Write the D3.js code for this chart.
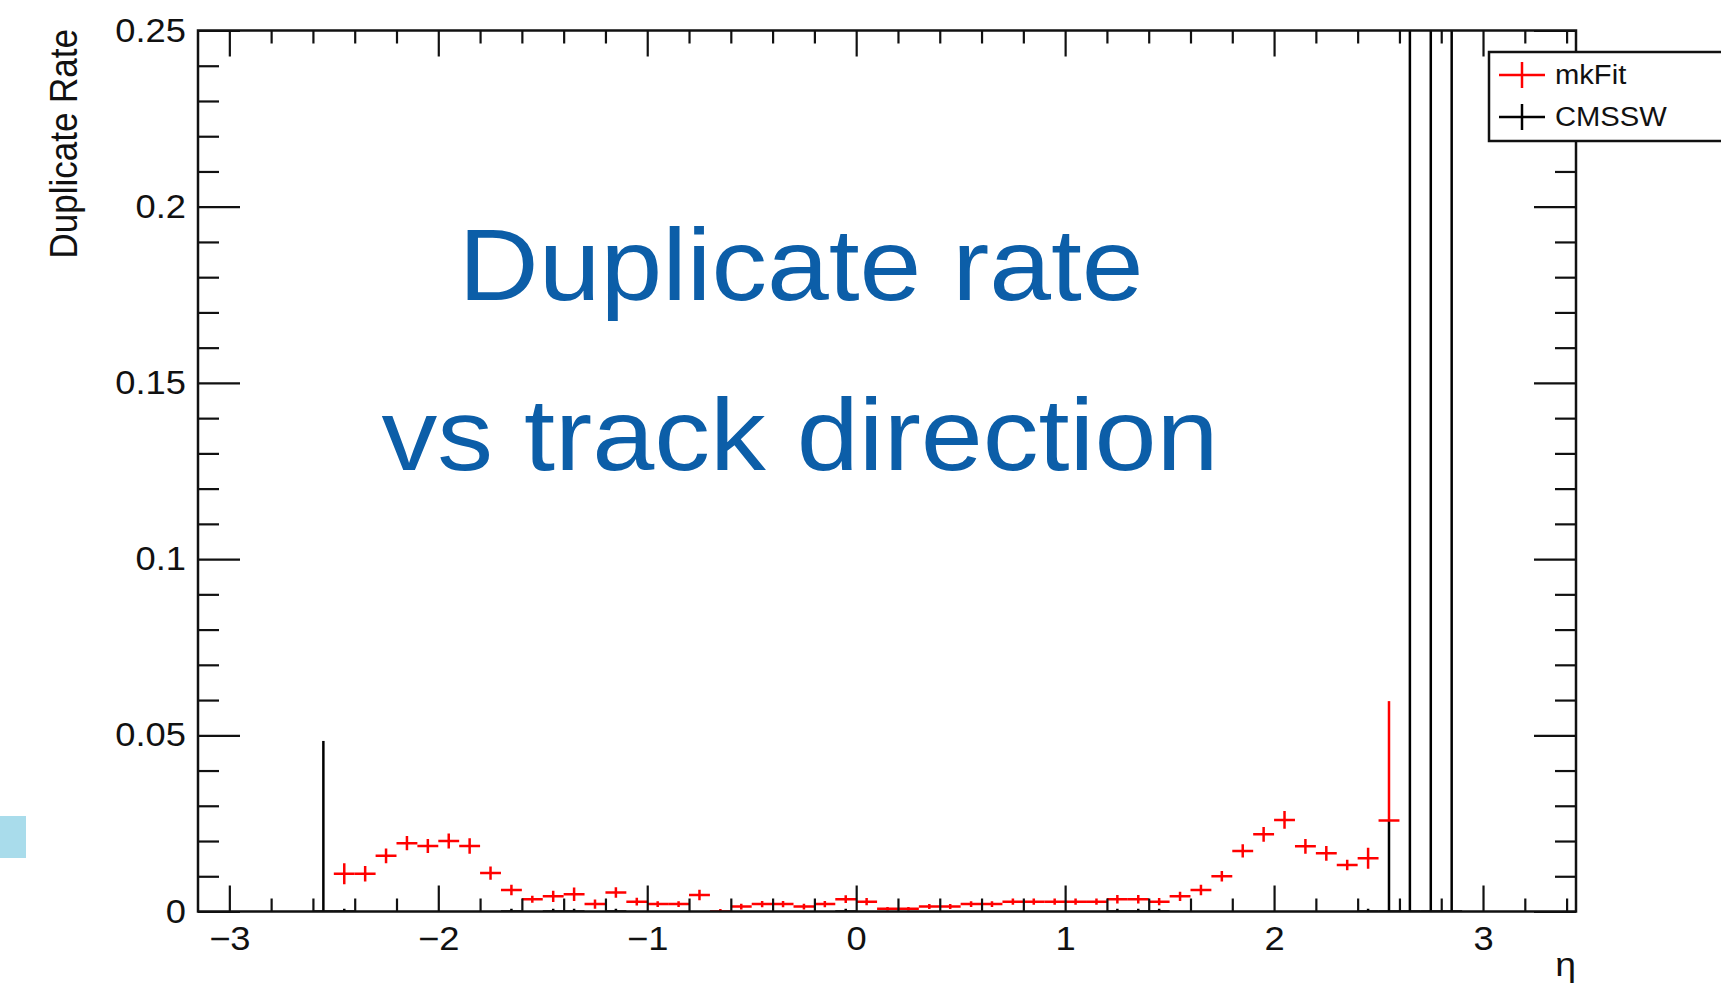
<!DOCTYPE html>
<html><head><meta charset="utf-8">
<script src="https://cdn.jsdelivr.net/npm/d3@7"></script>
<style>html,body{margin:0;padding:0;background:#fff;overflow:hidden}</style>
</head><body>
<svg id="c" width="1721" height="985"></svg>
<script>
// ---- data ----
const mkFitEta = [-2.45,-2.35,-2.25,-2.15,-2.05,-1.95,-1.85,-1.75,-1.65,-1.55,-1.45,-1.35,-1.25,-1.15,-1.05,-0.95,-0.85,-0.75,-0.65,-0.55,-0.45,-0.35,-0.25,-0.15,-0.05,0.05,0.15,0.25,0.35,0.45,0.55,0.65,0.75,0.85,0.95,1.05,1.15,1.25,1.35,1.45,1.55,1.65,1.75,1.85,1.95,2.05,2.15,2.25,2.35,2.45,2.55];
const mkFitRate = [0.0107,0.0107,0.0158,0.0194,0.0186,0.0200,0.0186,0.0109,0.0061,0.0035,0.0043,0.0049,0.0021,0.0054,0.0028,0.0021,0.0021,0.0047,0.0000,0.0014,0.0021,0.0021,0.0014,0.0021,0.0035,0.0028,0.0008,0.0008,0.0014,0.0014,0.0021,0.0021,0.0028,0.0028,0.0028,0.0028,0.0028,0.0035,0.0035,0.0028,0.0043,0.0061,0.0100,0.0172,0.0219,0.0260,0.0185,0.0165,0.0132,0.0151,0.0258];
const mkFitErrLow = [0.0030,0.0022,0.0021,0.0020,0.0020,0.0021,0.0022,0.0019,0.0015,0.0010,0.0016,0.0019,0.0013,0.0015,0.0011,0.0008,0.0008,0.0015,0.0000,0.0008,0.0009,0.0009,0.0008,0.0009,0.0011,0.0010,0.0005,0.0005,0.0007,0.0007,0.0008,0.0008,0.0009,0.0009,0.0009,0.0009,0.0009,0.0012,0.0012,0.0010,0.0013,0.0015,0.0015,0.0019,0.0021,0.0025,0.0021,0.0021,0.0015,0.0030,0.0000];
const mkFitErrHigh = [0.0030,0.0022,0.0021,0.0020,0.0020,0.0021,0.0022,0.0019,0.0015,0.0010,0.0016,0.0019,0.0013,0.0015,0.0011,0.0008,0.0008,0.0015,0.0007,0.0008,0.0009,0.0009,0.0008,0.0009,0.0011,0.0010,0.0005,0.0005,0.0007,0.0007,0.0008,0.0008,0.0009,0.0009,0.0009,0.0009,0.0009,0.0012,0.0012,0.0010,0.0013,0.0015,0.0015,0.0019,0.0021,0.0025,0.0021,0.0021,0.0015,0.0030,0.0339];

const cmsswEta = [-2.55,-2.45,-1.65,-1.45,-1.35,-1.15,-0.05,1.25,1.35,1.45,2.45,2.55,2.65,2.75,2.85];
const cmsswRate = [0,0,0,0,0,0,0,0,0,0,0,0,0,0,0];
const cmsswErrHigh = [0.0484,0.0008,0.0008,0.0008,0.0008,0.0008,0.0008,0.0008,0.0008,0.0008,0.0008,0.0260,1.0,1.0,1.0];

const binHalfWidth = 0.05;
const xMajorTicks = [-3,-2,-1,0,1,2,3];
const xTickLabels = ["\u22123","\u22122","\u22121","0","1","2","3"];
const xMinorTicks = [-2.8,-2.6,-2.4,-2.2,-1.8,-1.6,-1.4,-1.2,-0.8,-0.6,-0.4,-0.2,0.2,0.4,0.6,0.8,1.2,1.4,1.6,1.8,2.2,2.4,2.6,2.8,3.2,3.4];
const yMajorTicks = [0,0.05,0.1,0.15,0.2,0.25];
const yTickLabels = ["0","0.05","0.1","0.15","0.2","0.25"];
const yMinorTicks = [0.01,0.02,0.03,0.04,0.06,0.07,0.08,0.09,0.11,0.12,0.13,0.14,0.16,0.17,0.18,0.19,0.21,0.22,0.23,0.24];
const xDomain = [-3.15, 3.445];
const yDomain = [0, 0.25];
const seriesNames = ["mkFit","CMSSW"];
const seriesColors = ["#ff0000","#000000"];
const xTitle = "\u03b7";
const yTitle = "Duplicate Rate";
const overlayLines = ["Duplicate rate","vs track direction"];

// ---- layout ----
const L = 198, R = 1576, T = 30.5, B = 911.5;
const SX = 1.1; // horizontal stretch of the source picture
const FONT = "'Liberation Sans', Arial, Helvetica, sans-serif";

const svg = d3.select("#c");
svg.append("rect").attr("width",1721).attr("height",985).attr("fill","#fff");

const x = d3.scaleLinear().domain(xDomain).range([L, R]);
const y = d3.scaleLinear().domain(yDomain).range([B, T]);

svg.append("defs").append("clipPath").attr("id","pc")
  .append("rect").attr("x",L).attr("y",T).attr("width",R-L).attr("height",B-T);

const plot = svg.append("g").attr("clip-path","url(#pc)");

function drawSeries(eta, val, lo, hi, color) {
  const g = plot.append("g").attr("stroke", color).attr("stroke-width", 2.5).attr("fill","none");
  eta.forEach((e, i) => {
    g.append("line").attr("x1", x(e - binHalfWidth)).attr("x2", x(e + binHalfWidth))
      .attr("y1", y(val[i])).attr("y2", y(val[i]));
    g.append("line").attr("x1", x(e)).attr("x2", x(e))
      .attr("y1", y(val[i] - lo[i])).attr("y2", y(val[i] + hi[i]));
  });
}
drawSeries(cmsswEta, cmsswRate, cmsswRate.map(()=>0), cmsswErrHigh, seriesColors[1]);
drawSeries(mkFitEta, mkFitRate, mkFitErrLow, mkFitErrHigh, seriesColors[0]);

// ---- axes ----
function styleAxis(g) {
  g.select(".domain").remove();
  g.selectAll(".tick line").attr("stroke","#111").attr("stroke-width",2.2);
}
const gB = svg.append("g").attr("transform",`translate(0,${B})`)
  .call(d3.axisBottom(x).tickValues(xMajorTicks).tickSize(-26).tickFormat((d,i)=>xTickLabels[i]));
styleAxis(gB);
gB.selectAll("text").attr("font-family",FONT).attr("font-size",33).attr("fill","#111")
  .attr("y",38.5).attr("dy",null).attr("transform",`scale(${SX},1)`);
svg.append("g").attr("transform",`translate(0,${B})`)
  .call(d3.axisBottom(x).tickValues(xMinorTicks).tickSize(-13).tickFormat("")).call(styleAxis);
svg.append("g").attr("transform",`translate(0,${T})`)
  .call(d3.axisTop(x).tickValues(xMajorTicks).tickSize(-26).tickFormat("")).call(styleAxis);
svg.append("g").attr("transform",`translate(0,${T})`)
  .call(d3.axisTop(x).tickValues(xMinorTicks).tickSize(-13).tickFormat("")).call(styleAxis);

const gL = svg.append("g").attr("transform",`translate(${L},0)`)
  .call(d3.axisLeft(y).tickValues(yMajorTicks).tickSize(-42).tickPadding(11).tickFormat((d,i)=>yTickLabels[i]));
styleAxis(gL);
gL.selectAll("text").attr("font-family",FONT).attr("font-size",33).attr("fill","#111")
  .attr("transform",`scale(${SX},1)`);
svg.append("g").attr("transform",`translate(${L},0)`)
  .call(d3.axisLeft(y).tickValues(yMinorTicks).tickSize(-21).tickFormat("")).call(styleAxis);
svg.append("g").attr("transform",`translate(${R},0)`)
  .call(d3.axisRight(y).tickValues(yMajorTicks).tickSize(-42).tickFormat("")).call(styleAxis);
svg.append("g").attr("transform",`translate(${R},0)`)
  .call(d3.axisRight(y).tickValues(yMinorTicks).tickSize(-21).tickFormat("")).call(styleAxis);

// frame
svg.append("rect").attr("x",L).attr("y",T).attr("width",R-L).attr("height",B-T)
  .attr("fill","none").attr("stroke","#111").attr("stroke-width",2.5);

// axis titles
svg.append("text").attr("transform",`translate(77,29) scale(1.12,1) rotate(-90)`)
  .attr("text-anchor","end").attr("font-family",FONT).attr("font-size",35).attr("fill","#111")
  .text(yTitle);
svg.append("text").attr("transform",`translate(${R},976) scale(${SX},1)`)
  .attr("text-anchor","end").attr("font-family",FONT).attr("font-size",34).attr("fill","#111")
  .text(xTitle);

// legend
const lg = svg.append("g");
lg.append("rect").attr("x",1489).attr("y",52).attr("width",300).attr("height",89)
  .attr("fill","#fff").attr("stroke","#111").attr("stroke-width",2.5);
const legY = [75, 117];
seriesNames.forEach((n,i)=>{
  const c = seriesColors[i];
  lg.append("line").attr("x1",1499).attr("x2",1545).attr("y1",legY[i]).attr("y2",legY[i])
    .attr("stroke",c).attr("stroke-width",2.5);
  lg.append("line").attr("x1",1522).attr("x2",1522).attr("y1",legY[i]-13).attr("y2",legY[i]+13)
    .attr("stroke",c).attr("stroke-width",2.5);
  lg.append("text").attr("transform",`translate(1555,${legY[i]+9}) scale(1.08,1)`)
    .attr("font-family",FONT).attr("font-size",27).attr("fill","#111").text(n);
});

// slide overlay text
const ov = svg.append("g").attr("fill","#0C5EA8").attr("font-family",FONT).attr("font-size",102)
  .attr("text-anchor","middle");
ov.append("text").attr("x",801).attr("y",300).attr("textLength",685)
  .attr("lengthAdjust","spacingAndGlyphs").text(overlayLines[0]);
ov.append("text").attr("x",800).attr("y",470).attr("textLength",837)
  .attr("lengthAdjust","spacingAndGlyphs").text(overlayLines[1]);

// slide decoration
svg.append("rect").attr("x",0).attr("y",816).attr("width",26).attr("height",42).attr("fill","#A9DCEB");
</script>
</body></html>
